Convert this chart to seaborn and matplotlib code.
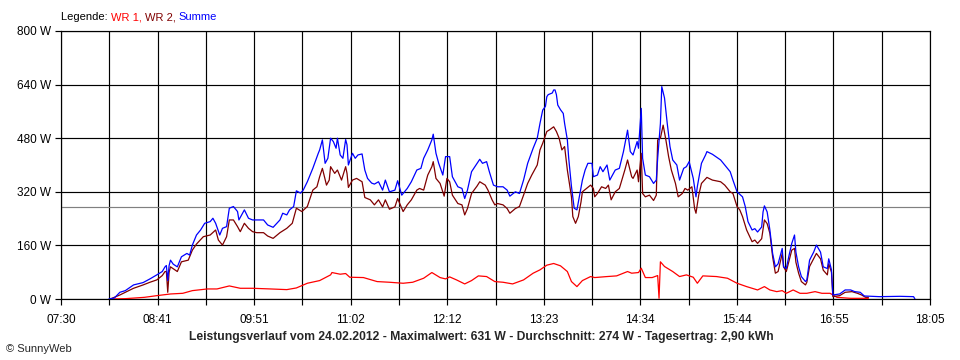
import numpy as np
import pandas as pd
import matplotlib
matplotlib.use("Agg")
import matplotlib.pyplot as plt
import seaborn as sns

# WR 1 (red)
wr1_time = ["08:06", "08:17", "08:31", "08:40", "08:50", "08:59", "09:06", "09:17", "09:24", "09:33",
            "09:41", "09:50", "10:03", "10:15", "10:22", "10:30", "10:39", "10:47", "10:48", "10:54",
            "10:58", "11:01", "11:11", "11:21", "11:30", "11:40", "11:47", "11:55", "12:01", "12:07",
            "12:11", "12:14", "12:19", "12:25", "12:30", "12:35", "12:41", "12:47", "12:53", "13:00",
            "13:08", "13:15", "13:20", "13:25", "13:30", "13:35", "13:40", "13:43", "13:47", "13:51",
            "13:57", "14:00", "14:09", "14:16", "14:24", "14:27", "14:32", "14:34", "14:37", "14:42",
            "14:46", "14:47", "14:48", "14:51", "14:57", "15:02", "15:07", "15:12", "15:15", "15:19",
            "15:29", "15:37", "15:44", "15:51", "15:59", "16:04", "16:08", "16:13", "16:17", "16:20",
            "16:25", "16:30", "16:35", "16:41", "16:46", "16:52", "16:57", "17:07", "17:20"]
wr1_power = [0, 1, 5, 10, 15, 17, 25, 30, 30, 39,
             32, 32, 30, 28, 33, 47, 55, 72, 79, 74,
             76, 65, 64, 52, 50, 47, 50, 62, 79, 64,
             60, 66, 57, 45, 55, 69, 67, 52, 50, 45,
             57, 77, 87, 101, 106, 99, 82, 52, 37, 55,
             67, 64, 67, 69, 82, 77, 79, 92, 64, 64,
             70, 2, 111, 97, 82, 67, 72, 65, 47, 69,
             67, 62, 47, 37, 27, 37, 27, 22, 25, 17,
             27, 17, 17, 22, 17, 17, 5, 2, 2]

# WR 2 (dark red)
wr2_time = ["08:06", "08:13", "08:17", "08:23", "08:30", "08:35", "08:40", "08:44", "08:46", "08:47",
            "08:48", "08:49", "08:50", "08:55", "08:58", "09:03", "09:06", "09:09", "09:14", "09:19",
            "09:23", "09:25", "09:28", "09:31", "09:33", "09:36", "09:39", "09:41", "09:44", "09:47",
            "09:50", "09:53", "09:58", "10:01", "10:05", "10:10", "10:15", "10:19", "10:22", "10:26",
            "10:30", "10:32", "10:34", "10:37", "10:39", "10:41", "10:44", "10:46", "10:47", "10:50",
            "10:52", "10:55", "10:58", "10:59", "11:00", "11:03", "11:06", "11:10", "11:12", "11:16",
            "11:19", "11:22", "11:25", "11:27", "11:30", "11:34", "11:36", "11:40", "11:43", "11:46",
            "11:50", "11:52", "11:55", "11:58", "12:01", "12:02", "12:04", "12:07", "12:10", "12:12",
            "12:14", "12:16", "12:20", "12:23", "12:25", "12:27", "12:30", "12:34", "12:36", "12:40",
            "12:42", "12:45", "12:47", "12:49", "12:53", "12:56", "12:58", "13:02", "13:05", "13:08",
            "13:11", "13:14", "13:18", "13:20", "13:22", "13:25", "13:27", "13:30", "13:32", "13:34",
            "13:36", "13:38", "13:40", "13:43", "13:44", "13:46", "13:48", "13:50", "13:51", "13:54",
            "13:57", "13:59", "14:00", "14:02", "14:05", "14:08", "14:10", "14:12", "14:15", "14:18",
            "14:22", "14:24", "14:27", "14:28", "14:31", "14:32", "14:34", "14:35", "14:37", "14:40",
            "14:43", "14:45", "14:46", "14:48", "14:50", "14:52", "14:54", "14:56", "14:59", "15:01",
            "15:04", "15:06", "15:08", "15:11", "15:13", "15:14", "15:16", "15:18", "15:22", "15:26",
            "15:32", "15:35", "15:39", "15:41", "15:44", "15:46", "15:48", "15:51", "15:55", "15:57",
            "15:59", "16:02", "16:04", "16:06", "16:08", "16:10", "16:12", "16:14", "16:17", "16:18",
            "16:20", "16:24", "16:26", "16:27", "16:29", "16:31", "16:34", "16:35", "16:37", "16:40",
            "16:42", "16:45", "16:47", "16:50", "16:51", "16:53", "16:54", "16:59", "17:03", "17:08",
            "17:12", "17:15", "17:18", "17:20"]
wr2_power = [0, 12, 20, 32, 42, 50, 57, 70, 82, 82,
             20, 80, 96, 82, 111, 116, 146, 164, 186, 191,
             206, 176, 161, 186, 236, 236, 216, 201, 226, 211,
             201, 198, 198, 188, 181, 198, 211, 226, 271, 261,
             276, 300, 325, 335, 365, 390, 340, 355, 395, 375,
             385, 355, 395, 375, 333, 355, 360, 350, 303, 296,
             281, 296, 275, 296, 268, 275, 300, 261, 281, 296,
             325, 330, 325, 370, 395, 410, 360, 345, 307, 360,
             350, 310, 285, 281, 251, 270, 315, 337, 350, 340,
             325, 296, 281, 285, 281, 270, 256, 270, 276, 310,
             345, 370, 400, 445, 465, 500, 505, 514, 500, 480,
             445, 455, 385, 305, 246, 226, 246, 290, 320, 330,
             340, 330, 305, 315, 335, 330, 340, 296, 320, 330,
             385, 415, 365, 360, 385, 350, 435, 315, 305, 310,
             294, 310, 475, 480, 519, 475, 425, 385, 345, 305,
             315, 330, 325, 335, 270, 256, 310, 345, 363, 355,
             350, 340, 320, 315, 276, 266, 246, 206, 171, 176,
             166, 180, 236, 225, 196, 126, 77, 82, 136, 96,
             82, 146, 151, 110, 77, 52, 42, 50, 97, 120,
             136, 120, 86, 72, 105, 80, 7, 10, 20, 22,
             17, 12, 5, 5]

# Summe (blue)
sum_time = ["08:05", "08:09", "08:13", "08:17", "08:23", "08:30", "08:35", "08:40", "08:44", "08:46",
            "08:47", "08:48", "08:49", "08:50", "08:52", "08:55", "08:58", "09:02", "09:04", "09:06",
            "09:09", "09:12", "09:15", "09:19", "09:21", "09:23", "09:26", "09:28", "09:31", "09:33",
            "09:36", "09:39", "09:40", "09:42", "09:44", "09:47", "09:50", "09:53", "09:58", "10:01",
            "10:05", "10:10", "10:12", "10:15", "10:17", "10:20", "10:22", "10:25", "10:27", "10:30",
            "10:34", "10:38", "10:39", "10:41", "10:43", "10:45", "10:47", "10:49", "10:51", "10:52",
            "10:54", "10:56", "10:58", "10:59", "11:00", "11:03", "11:05", "11:07", "11:10", "11:12",
            "11:14", "11:17", "11:19", "11:22", "11:25", "11:27", "11:30", "11:34", "11:36", "11:39",
            "11:43", "11:46", "11:50", "11:53", "11:55", "11:58", "12:01", "12:02", "12:04", "12:06",
            "12:09", "12:11", "12:14", "12:16", "12:20", "12:23", "12:25", "12:27", "12:30", "12:34",
            "12:36", "12:38", "12:41", "12:43", "12:46", "12:49", "12:53", "12:56", "12:58", "13:02",
            "13:05", "13:08", "13:11", "13:15", "13:18", "13:20", "13:22", "13:24", "13:25", "13:26",
            "13:29", "13:30", "13:31", "13:32", "13:33", "13:35", "13:37", "13:38", "13:40", "13:41",
            "13:43", "13:45", "13:47", "13:49", "13:51", "13:53", "13:55", "13:58", "13:59", "14:02",
            "14:04", "14:06", "14:09", "14:11", "14:15", "14:18", "14:21", "14:24", "14:26", "14:28",
            "14:31", "14:32", "14:34", "14:35", "14:37", "14:40", "14:43", "14:45", "14:46", "14:48",
            "14:49", "14:51", "14:53", "14:55", "14:57", "15:00", "15:02", "15:05", "15:07", "15:09",
            "15:12", "15:14", "15:15", "15:18", "15:21", "15:22", "15:26", "15:32", "15:35", "15:39",
            "15:41", "15:44", "15:48", "15:50", "15:52", "15:55", "15:57", "15:59", "16:02", "16:03",
            "16:04", "16:06", "16:08", "16:10", "16:12", "16:14", "16:17", "16:18", "16:20", "16:22",
            "16:24", "16:26", "16:27", "16:29", "16:31", "16:34", "16:35", "16:37", "16:40", "16:42",
            "16:45", "16:47", "16:50", "16:51", "16:53", "16:54", "16:59", "17:03", "17:07", "17:10",
            "17:14", "17:17", "17:28", "17:43", "17:53", "17:54"]
sum_power = [0, 3, 20, 25, 42, 49, 60, 72, 82, 96,
             100, 55, 100, 116, 104, 96, 126, 136, 131, 161,
             191, 206, 226, 231, 241, 226, 191, 211, 216, 271,
             276, 261, 236, 251, 266, 241, 236, 236, 236, 221,
             214, 236, 256, 251, 266, 276, 323, 316, 325, 350,
             390, 435, 445, 475, 405, 420, 480, 470, 450, 480,
             430, 420, 476, 460, 400, 435, 420, 430, 433, 385,
             360, 346, 343, 350, 325, 355, 320, 325, 353, 310,
             330, 350, 385, 390, 420, 445, 475, 492, 435, 405,
             370, 425, 425, 365, 335, 330, 300, 325, 380, 405,
             417, 405, 410, 380, 340, 335, 335, 325, 307, 320,
             315, 355, 405, 450, 480, 524, 564, 575, 604, 610,
             615, 624, 624, 610, 579, 565, 554, 524, 475, 420,
             336, 271, 266, 310, 355, 385, 405, 405, 365, 370,
             395, 380, 400, 355, 385, 390, 440, 504, 440, 430,
             470, 450, 569, 420, 370, 365, 345, 355, 420, 524,
             634, 600, 524, 455, 415, 400, 355, 390, 395, 410,
             360, 305, 336, 405, 430, 440, 432, 415, 400, 380,
             355, 320, 305, 276, 231, 206, 210, 200, 215, 260,
             278, 260, 206, 136, 96, 105, 151, 96, 91, 130,
             166, 191, 140, 96, 67, 52, 57, 116, 140, 161,
             140, 96, 91, 120, 87, 12, 15, 27, 27, 22,
             20, 9, 7, 8, 7, 0]

avg_power = 274
y_ticks = [0, 160, 320, 480, 640, 800]
x_labels = ["07:30", "08:41", "09:51", "11:02", "12:12", "13:23", "14:34", "15:44", "16:55", "18:05"]
title = ("Leistungsverlauf vom 24.02.2012 - Maximalwert: 631 W - Durchschnitt: 274 W"
         " - Tagesertrag: 2,90 kWh")


def to_minutes(times):
    return [int(t[:2]) * 60 + int(t[3:]) for t in times]


sns.set_style("white")
plt.rcParams['font.family'] = ['Liberation Sans', 'DejaVu Sans']

fig = plt.figure(figsize=(9.6, 3.6), dpi=100)
ax = fig.add_axes([61 / 960, 61 / 360, 869 / 960, 268 / 360])

t0 = to_minutes(["07:30"])[0]
t1 = to_minutes(["18:05"])[0]
grid_x = np.linspace(t0, t1, 19)

for v in y_ticks:
    ax.axhline(v, color="black", lw=0.85, zorder=1)
for v in grid_x:
    ax.axvline(v, color="black", lw=0.85, zorder=1)
ax.axhline(avg_power, color="#808080", lw=0.85, zorder=2)

series = [
    (wr1_time, wr1_power, "#ff0000"),
    (wr2_time, wr2_power, "#800000"),
    (sum_time, sum_power, "#0000ff"),
]
for times, power, color in series:
    df = pd.DataFrame({"t": to_minutes(times), "p": power})
    sns.lineplot(data=df, x="t", y="p", ax=ax, color=color, lw=0.9,
                 estimator=None, zorder=3)

ax.set_xlim(t0, t1)
ax.set_ylim(0, 800)
ax.set_xticks(grid_x)
ax.set_xticklabels([x_labels[i // 2] if i % 2 == 0 else "" for i in range(19)])
ax.set_yticks(y_ticks)
ax.set_yticklabels([f"{v} W" for v in y_ticks])
ax.set_xlabel("")
ax.set_ylabel("")
ax.tick_params(axis="x", bottom=True, length=4, width=0.85, color="black", pad=7,
               labelsize=8.5, labelcolor="black")
ax.tick_params(axis="y", left=True, length=4, width=0.85, color="black", pad=3,
               labelsize=8.5, labelcolor="black")
for s in ax.spines.values():
    s.set_color("black")
    s.set_linewidth(0.85)

# legend line built from coloured text pieces
fig.canvas.draw()
renderer = fig.canvas.get_renderer()
x = 61 / 960
for txt, col in [("Legende: ", "black"), ("WR 1, ", "#ff0000"),
                 ("WR 2, ", "#800000"), ("Summe", "#0000ff")]:
    t = fig.text(x, 1 - 17 / 360, txt, color=col, fontsize=8, va="center", ha="left")
    bb = t.get_window_extent(renderer)
    x = bb.x1 / fig.bbox.width

fig.text(481 / 960, 1 - 337 / 360, title, ha="center", va="center", fontsize=8.7,
         fontweight="bold")
fig.text(6 / 960, 1 - 349 / 360, "\u00a9 SunnyWeb", ha="left", va="center", fontsize=8)

fig.savefig("out.png", dpi=100)
